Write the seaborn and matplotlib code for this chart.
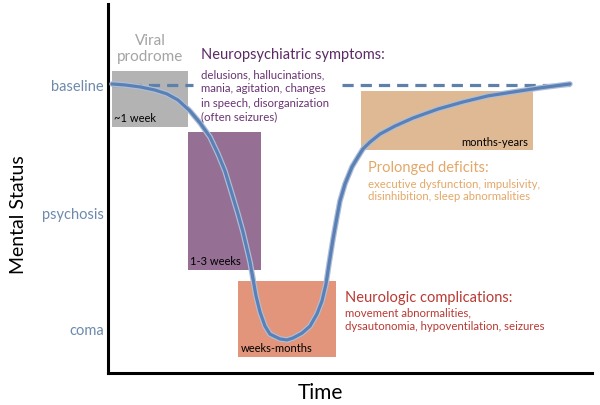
import matplotlib
matplotlib.use("Agg")
import matplotlib.pyplot as plt
from matplotlib.patches import Rectangle
import seaborn as sns
import pandas as pd

# ---- data ----
# time (arbitrary units 0-100) and mental status (baseline=100, coma=0)
curve_time = [0.83, 3.51, 6.61, 9.71, 12.19, 14.46, 16.94, 19.01, 21.07, 22.73,
              24.17, 25.62, 26.86, 27.89, 28.72, 29.34, 29.96, 30.58, 31.40, 32.44,
              33.47, 35.54, 36.98, 38.22, 40.08, 41.74, 43.18, 44.21, 45.04, 45.66,
              46.49, 47.31, 47.93, 48.97, 50.41, 51.65, 52.69, 54.13, 56.20, 59.30,
              63.02, 68.18, 73.35, 78.51, 83.68, 89.26, 95.45]
curve_status = [100.4, 100.0, 99.2, 97.9, 96.3, 93.8, 89.3, 84.4, 78.6, 71.6,
                64.6, 55.1, 46.9, 39.5, 32.5, 27.2, 20.2, 13.2, 6.6, 0.8,
                -2.5, -4.5, -4.9, -4.1, -2.1, 0.8, 5.8, 11.1, 18.1, 26.3,
                36.6, 45.7, 52.3, 59.3, 66.3, 70.4, 73.7, 76.5, 79.8, 83.1,
                86.4, 90.1, 93.0, 95.5, 97.1, 98.8, 100.4]

baseline_level = 100
dash_segments = [(0.8, 17.5), (48.3, 95.5)]

ytick_values = [100, 47.7, 0]
ytick_labels = ["baseline", "psychosis", "coma"]

box_labels = ["~1 week", "1-3 weeks", "weeks-months", "months-years"]
box_x0 = [0.8, 16.5, 26.9, 52.3]
box_x1 = [16.5, 31.6, 47.1, 87.8]
box_y0 = [82.7, 23.9, -11.9, 73.3]
box_y1 = [105.8, 80.7, 19.3, 97.5]
box_colors = ["#b3b3b3", "#967094", "#e2957a", "#dfb993"]

xlim = (0, 100)
ylim = (-18.5, 133.3)

# ---- figure ----
sns.set_style("white")
plt.rcParams["font.family"] = ["Lato", "DejaVu Sans"]

fig = plt.figure(figsize=(6.0, 4.06), dpi=100)
ax = fig.add_axes([108 / 600, 1 - 374 / 406, 484 / 600, 369 / 406])
ax.set_xlim(*xlim)
ax.set_ylim(*ylim)

for lab, x0, x1, y0, y1, c in zip(box_labels, box_x0, box_x1, box_y0, box_y1, box_colors):
    ax.add_patch(Rectangle((x0, y0), x1 - x0, y1 - y0, facecolor=c, edgecolor="none", zorder=1))

# box labels
ax.text(box_x0[0] + 0.5, box_y0[0] + 2.5, box_labels[0], fontsize=8, color="black", zorder=4)
ax.text(box_x0[1] + 0.5, box_y0[1] + 2.5, box_labels[1], fontsize=8, color="black", zorder=4)
ax.text(box_x0[2] + 0.5, box_y0[2] + 2.5, box_labels[2], fontsize=8, color="black", zorder=4)
ax.text(box_x1[3] - 1.0, box_y0[3] + 2.0, box_labels[3], fontsize=8, color="black",
        ha="right", zorder=4)

# dashed baseline
for a, b in dash_segments:
    ax.plot([a, b], [baseline_level, baseline_level], color="#5f81a9", lw=2.3,
            dashes=(3.5, 2.2), zorder=3)

# main curve
df = pd.DataFrame({"time": curve_time, "status": curve_status})
sns.lineplot(data=df, x="time", y="status", sort=False, color="#aebfd8", lw=4.0, ax=ax,
             zorder=4, solid_joinstyle="round", solid_capstyle="round")
sns.lineplot(data=df, x="time", y="status", sort=False, color="#5b80b6", lw=2.3, ax=ax,
             zorder=5, solid_joinstyle="round", solid_capstyle="round")

# axes style
ax.set_yticks(ytick_values)
ax.set_yticklabels(ytick_labels, color="#6d8aac", fontsize=10.5)
ax.set_xticks([])
ax.tick_params(axis="y", length=0, pad=3)
for s in ["top", "right"]:
    ax.spines[s].set_visible(False)
for s in ["left", "bottom"]:
    ax.spines[s].set_color("black")
    ax.spines[s].set_linewidth(2.2)
ax.set_xlabel("")
ax.set_ylabel("")

def ftext(px, py, s, **kw):
    fig.text(px / 600, 1 - py / 406, s, **kw)

ftext(320, 393, "Time", ha="center", va="center", fontsize=15, color="black")
ftext(19, 215, "Mental Status", ha="center", va="center", rotation=90, fontsize=14,
      color="black")

ftext(150, 49, "Viral\nprodrome", ha="center", va="center", fontsize=11,
      color="#a3a3a3", linespacing=1.2)

ftext(201, 55, "Neuropsychiatric symptoms:", ha="left", va="center", fontsize=10.5,
      color="#5b2a66")
ftext(201, 96, "delusions, hallucinations,\nmania, agitation, changes\nin speech, disorganization\n(often seizures)",
      ha="left", va="center", fontsize=8.2, color="#6a3373", linespacing=1.35)

ftext(368, 168, "Prolonged deficits:", ha="left", va="center", fontsize=10.5, color="#e3a868")
ftext(368, 190.5, "executive dysfunction, impulsivity,\ndisinhibition, sleep abnormalities",
      ha="left", va="center", fontsize=8.2, color="#e3a868", linespacing=1.2)

ftext(345, 298, "Neurologic complications:", ha="left", va="center", fontsize=10.5, color="#b83a34")
ftext(345, 320, "movement abnormalities,\ndysautonomia, hypoventilation, seizures",
      ha="left", va="center", fontsize=8.2, color="#b83a34", linespacing=1.25)

fig.savefig("out.png", dpi=100)
